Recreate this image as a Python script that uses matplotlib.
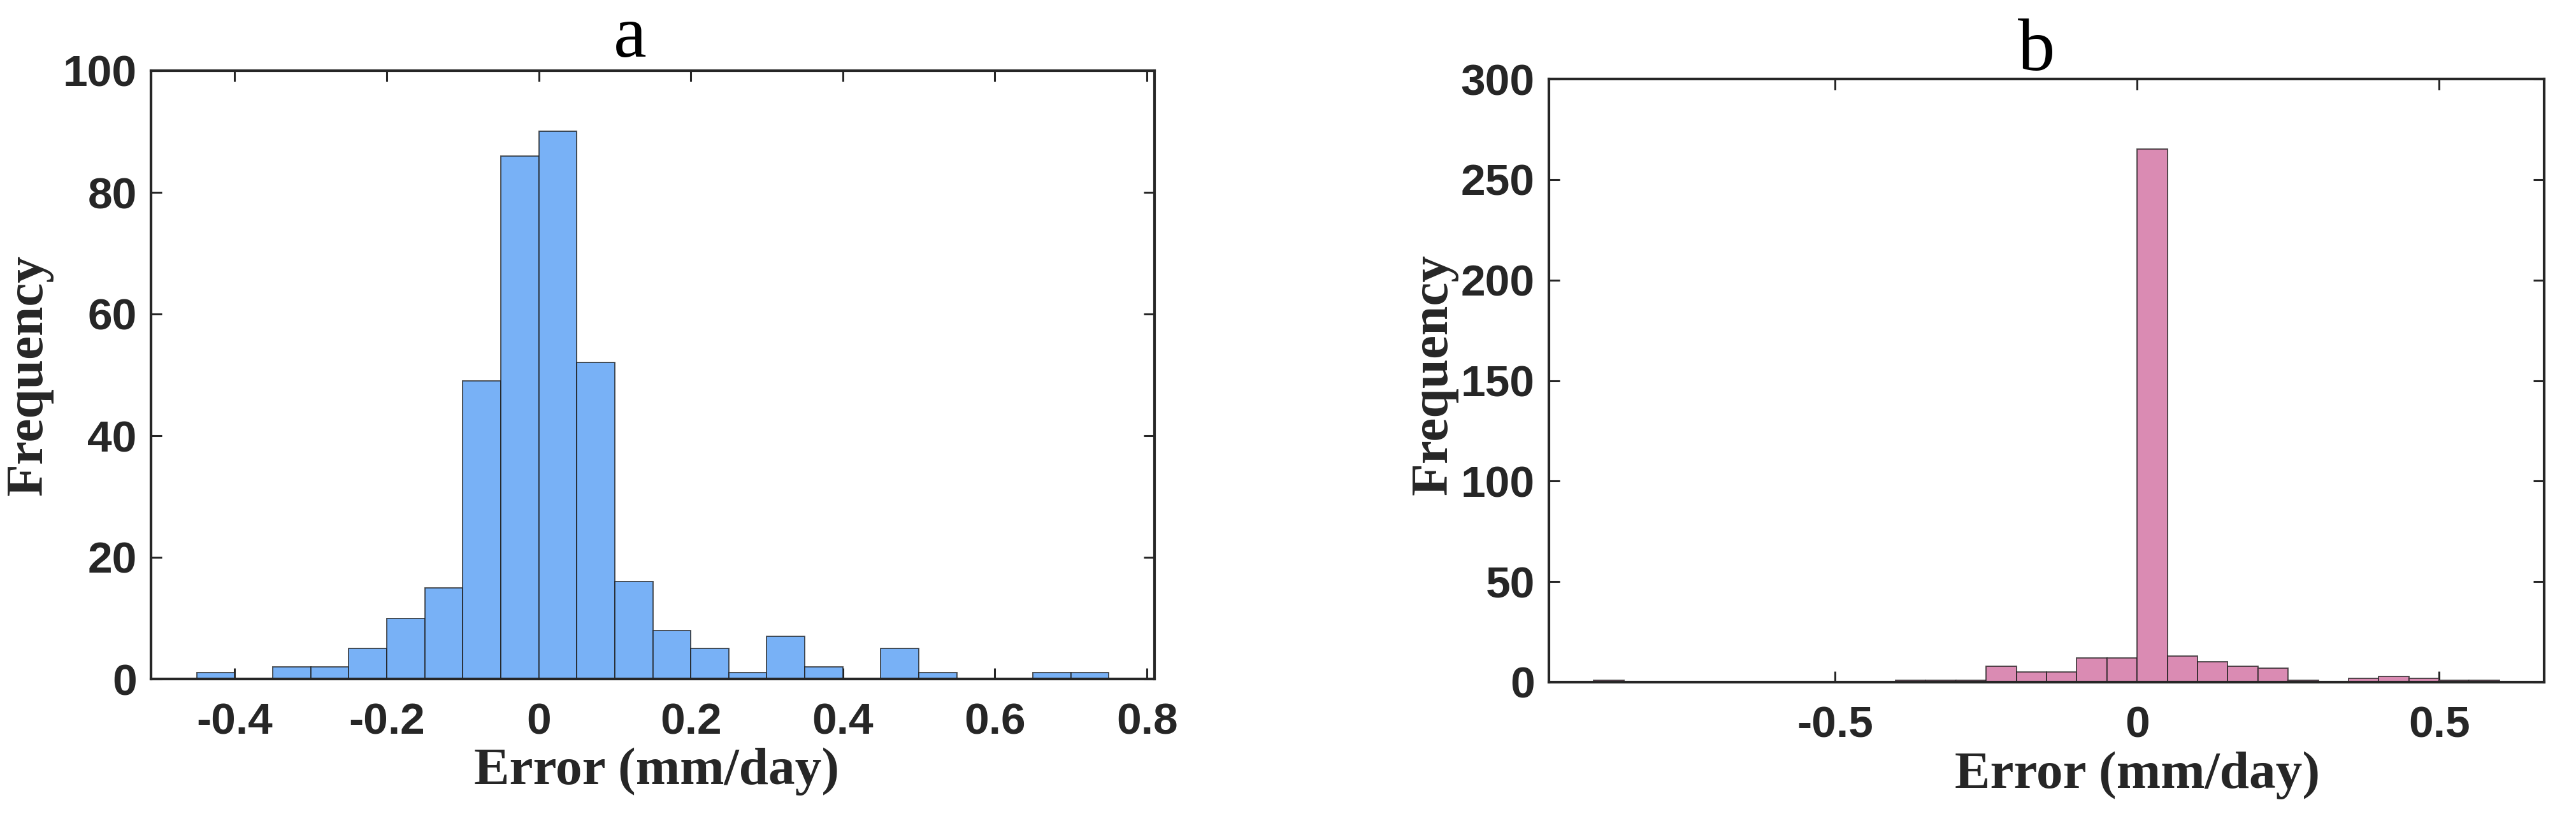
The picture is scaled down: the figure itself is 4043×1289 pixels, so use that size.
import numpy as np
import matplotlib
matplotlib.use("Agg")
import matplotlib.pyplot as plt

plt.rcParams['axes.unicode_minus'] = False

# ---- data (bin width 0.05) ----
bin_width = 0.05
a_first_edge = -0.45
a_counts = [1, 0, 2, 2, 5, 10, 15, 49, 86, 90, 52, 16, 8, 5, 1, 7, 2, 0, 5, 1, 0, 0, 1, 1]
b_first_edge = -0.90
b_counts = [1, 0, 0, 0, 0, 0, 0, 0, 0, 0, 1, 1, 1, 8, 5, 5, 12, 12, 265, 13, 10, 8, 7, 1, 0, 2, 3, 2, 1, 1]

a_xticks = [-0.4, -0.2, 0, 0.2, 0.4, 0.6, 0.8]
a_xticklabels = ["-0.4", "-0.2", "0", "0.2", "0.4", "0.6", "0.8"]
a_yticks = [0, 20, 40, 60, 80, 100]
b_xticks = [-0.5, 0, 0.5]
b_xticklabels = ["-0.5", "0", "0.5"]
b_yticks = [0, 50, 100, 150, 200, 250, 300]

titles = ["a", "b"]
xlabel = "Error (mm/day)"
ylabel = "Frequency"

# ---- styling ----
W, H, DPI = 4043, 1289, 200
fig = plt.figure(figsize=(W / DPI, H / DPI), dpi=DPI)
fig.patch.set_facecolor("white")

dark = (0.15, 0.15, 0.15)
tick_font = dict(family="Liberation Sans", weight="bold", size=25)
label_font = dict(family="Liberation Serif", weight="bold", size=30)
title_font = dict(family="Liberation Serif", weight="normal", size=42)

ax_a = fig.add_axes([237 / W, 1 - 1066 / H, 1575 / W, 955 / H])
ax_b = fig.add_axes([2431 / W, 1 - 1071 / H, 1562 / W, 947 / H])

panels = [
    dict(ax=ax_a, first=a_first_edge, counts=a_counts, color="#78B1F6",
         xlim=(-0.51, 0.81), ylim=(0, 100), xticks=a_xticks, xtl=a_xticklabels,
         yticks=a_yticks, title_xy=(0.477, 1.035), xl_xy=(0.504, -0.152), yl_xy=(-0.121, 0.5)),
    dict(ax=ax_b, first=b_first_edge, counts=b_counts, color="#DA8BB3",
         xlim=(-0.974, 0.674), ylim=(0, 300), xticks=b_xticks, xtl=b_xticklabels,
         yticks=b_yticks, title_xy=(0.49, 1.027), xl_xy=(0.591, -0.155), yl_xy=(-0.115, 0.51)),
]

for p, t in zip(panels, titles):
    ax = p["ax"]
    counts = np.asarray(p["counts"], dtype=float)
    edges = p["first"] + bin_width * np.arange(len(counts))
    ax.bar(edges, counts, width=bin_width, align="edge", color=p["color"],
           edgecolor=(0.12, 0.12, 0.12, 0.75), linewidth=0.7, zorder=2)
    ax.set_xlim(*p["xlim"])
    ax.set_ylim(*p["ylim"])
    ax.set_xticks(p["xticks"])
    ax.set_xticklabels(p["xtl"])
    ax.set_yticks(p["yticks"])
    ax.tick_params(direction="in", length=6, width=1.1, color=dark,
                   top=True, right=True, labelcolor=dark)
    ax.tick_params(axis="x", pad=13)
    ax.tick_params(axis="y", pad=8)
    for lab in ax.get_xticklabels() + ax.get_yticklabels():
        lab.set_fontfamily(tick_font["family"])
        lab.set_fontweight(tick_font["weight"])
        lab.set_fontsize(tick_font["size"])
    for s in ax.spines.values():
        s.set_linewidth(1.5)
        s.set_color(dark)
        s.set_zorder(3)
    ax.set_xlabel(xlabel, color=dark, va="center", **label_font)
    ax.xaxis.set_label_coords(*p["xl_xy"])
    ax.set_ylabel(ylabel, color=dark, va="center", **label_font)
    ax.yaxis.set_label_coords(*p["yl_xy"])
    ax.set_title(t, x=p["title_xy"][0], y=p["title_xy"][1], va="center", color="black", **title_font)

fig.savefig("out.png", dpi=DPI, facecolor="white")
